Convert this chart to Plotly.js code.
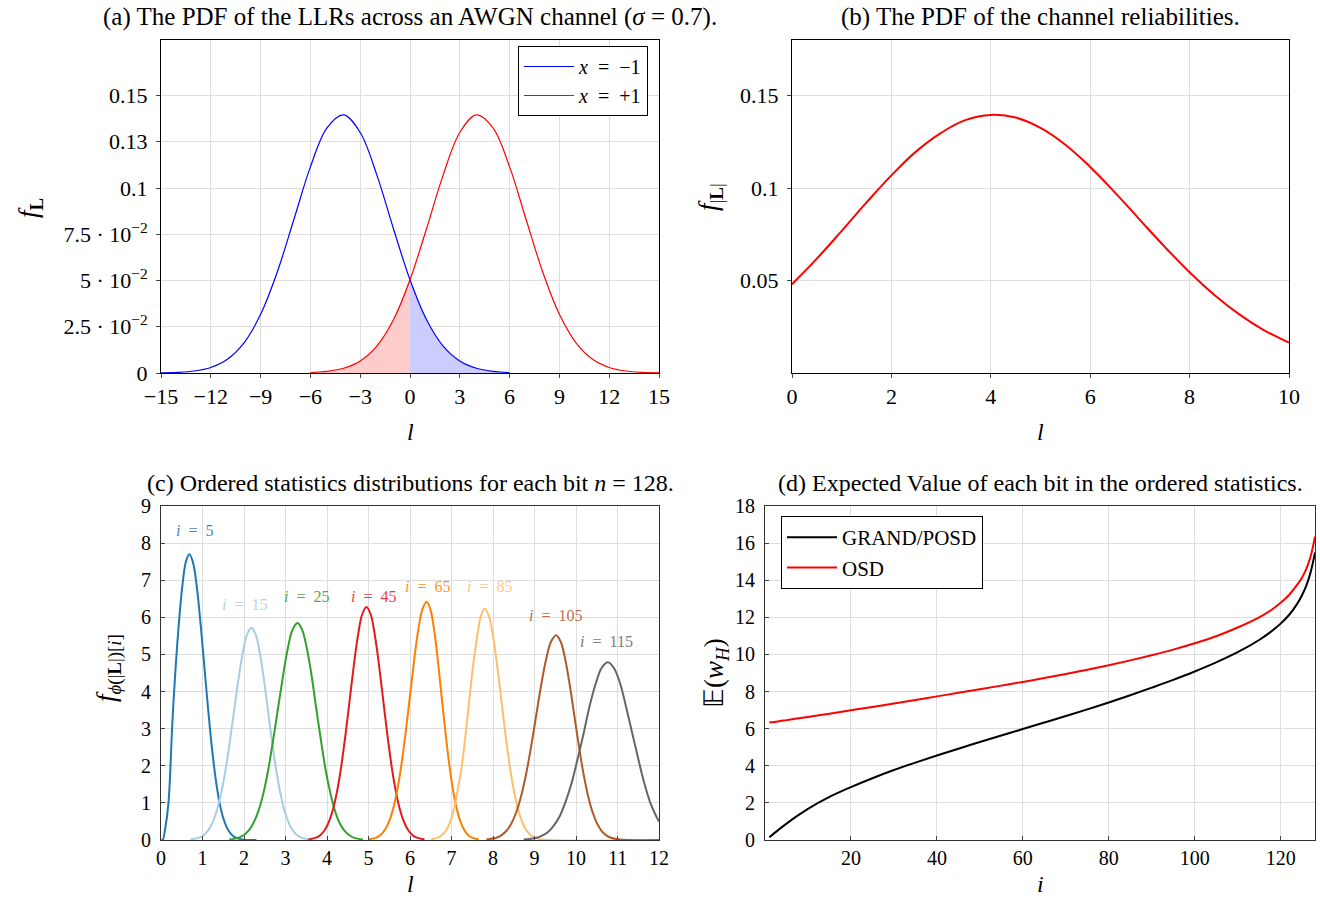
<!DOCTYPE html>
<html>
<head>
<meta charset="utf-8">
<script src="https://cdn.plot.ly/plotly-3.0.1.min.js"></script>
<style>html,body{margin:0;padding:0;background:#fff;}#chart{width:1320px;height:898px;}</style>
</head>
<body>
<div id="chart"></div>
<script>
// ---------- (a) PDF of LLRs ----------
var llrNegX = [-15,-14,-13,-12,-11,-10,-9,-8,-7,-6,-5,-4,-3,-2,-1,0,1,2,3,4,5,6];
var llrNegY = [0.00009,0.00034,0.00107,0.0030,0.00743,0.01632,0.03171,0.05447,0.08283,0.1114,0.1325,0.1395,0.1300,0.1071,0.0781,0.0504,0.02875,0.01451,0.00648,0.00256,0.000895,0.000277];
var llrPosX = [-6,-5,-4,-3,-2,-1,0,1,2,3,4,5,6,7,8,9,10,11,12,13,14,15];
var llrPosY = [0.000277,0.000895,0.00256,0.00648,0.01451,0.02875,0.0504,0.0781,0.1071,0.1300,0.1395,0.1325,0.1114,0.08283,0.05447,0.03171,0.01632,0.00743,0.0030,0.00107,0.00034,0.00009];
var aXTicks = [-15,-12,-9,-6,-3,0,3,6,9,12,15];
var aYTicks = [0,0.025,0.05,0.075,0.1,0.125,0.15];
var aYTickText = ['0','2.5 · 10<sup>−2</sup>','5 · 10<sup>−2</sup>','7.5 · 10<sup>−2</sup>','0.1','0.13','0.15'];

// ---------- (b) PDF of channel reliabilities ----------
var relX = [0,0.5,1,1.5,2,2.5,3,3.5,4,4.5,5,5.5,6,6.5,7,7.5,8,8.5,9,9.5,10];
var relY = [0.048,0.0618,0.0768,0.0922,0.1068,0.1198,0.1298,0.1368,0.1395,0.1381,0.1325,0.1234,0.1114,0.0975,0.0828,0.0682,0.0545,0.0422,0.0317,0.0231,0.0165];
var bXTicks = [0,2,4,6,8,10];
var bYTicks = [0.05,0.1,0.15];

// ---------- (c) ordered statistics distributions ----------
var os5X = [0,0.04,0.1,0.18,0.28,0.40,0.52,0.6,0.685,0.775,0.865,0.955,1.045,1.135,1.225,1.315,1.405,1.495,1.585,1.675,1.765,1.945,2.3];
var os5Y = [0,0,0.3,1.0,3.3,5.4,6.9,7.5,7.7,7.46,6.80,5.81,4.67,3.53,2.50,1.67,1.04,0.61,0.34,0.176,0.085,0.017,0];
var os15X = [0.71,0.92,1.025,1.13,1.235,1.34,1.445,1.55,1.655,1.76,1.865,1.97,2.075,2.18,2.28,2.38,2.48,2.58,2.68,2.78,2.88,2.98,3.08,3.18,3.28,3.38,3.58];
var os15Y = [0.013,0.063,0.130,0.251,0.455,0.774,1.24,1.86,2.62,3.47,4.32,5.05,5.54,5.72,5.54,5.05,4.32,3.47,2.62,1.86,1.24,0.774,0.455,0.251,0.130,0.063,0.013];
var os25X = [1.645,1.88,2.0,2.115,2.23,2.35,2.47,2.585,2.70,2.82,2.94,3.055,3.17,3.29,3.40,3.515,3.63,3.74,3.855,3.965,4.08,4.19,4.30,4.415,4.53,4.64,4.865];
var os25Y = [0.013,0.065,0.133,0.257,0.466,0.79,1.27,1.90,2.68,3.55,4.42,5.16,5.67,5.85,5.67,5.16,4.42,3.55,2.68,1.90,1.27,0.79,0.466,0.257,0.133,0.065,0.013];
var os45X = [3.55,3.75,3.85,3.95,4.05,4.15,4.25,4.35,4.45,4.55,4.65,4.75,4.85,4.95,5.05,5.15,5.25,5.35,5.45,5.55,5.65,5.75,5.85,5.95,6.05,6.15,6.35];
var os45Y = [0.014,0.070,0.143,0.276,0.50,0.85,1.358,2.04,2.875,3.81,4.74,5.54,6.09,6.28,6.09,5.54,4.74,3.81,2.875,2.04,1.358,0.85,0.50,0.276,0.143,0.070,0.014];
var os65X = [5.00,5.20,5.30,5.40,5.50,5.60,5.70,5.80,5.90,6.00,6.10,6.20,6.30,6.40,6.49,6.58,6.67,6.76,6.85,6.94,7.03,7.12,7.21,7.30,7.39,7.48,7.66];
var os65Y = [0.014,0.071,0.146,0.282,0.511,0.869,1.389,2.085,2.94,3.89,4.85,5.67,6.22,6.42,6.22,5.67,4.85,3.89,2.94,2.085,1.389,0.869,0.511,0.282,0.146,0.071,0.014];
var os85X = [6.51,6.69,6.78,6.88,6.97,7.06,7.15,7.25,7.34,7.43,7.52,7.62,7.71,7.80,7.90,8.00,8.10,8.20,8.30,8.40,8.50,8.60,8.70,8.80,8.90,9.00,9.20,12];
var os85Y = [0.0137,0.069,0.142,0.273,0.496,0.843,1.348,2.02,2.85,3.78,4.70,5.50,6.04,6.23,6.04,5.50,4.70,3.78,2.85,2.02,1.348,0.843,0.496,0.273,0.142,0.069,0.0137,0];
var os105X = [7.84,8.08,8.20,8.32,8.44,8.56,8.68,8.80,8.92,9.04,9.16,9.28,9.40,9.52,9.63,9.74,9.85,9.96,10.07,10.18,10.29,10.40,10.51,10.62,10.73,10.84,11.06,12];
var os105Y = [0.012,0.061,0.126,0.242,0.439,0.747,1.194,1.79,2.53,3.35,4.17,4.87,5.35,5.52,5.35,4.87,4.17,3.35,2.53,1.79,1.194,0.747,0.439,0.242,0.126,0.061,0.012,0];
var os115X = [8.74,9.03,9.17,9.32,9.46,9.61,9.75,9.90,10.04,10.19,10.33,10.48,10.62,10.77,10.91,11.06,11.20,11.35,11.50,11.64,11.78,11.93,12];
var os115Y = [0.0105,0.053,0.109,0.210,0.381,0.648,1.036,1.555,2.19,2.905,3.62,4.23,4.64,4.79,4.64,4.23,3.62,2.905,2.19,1.555,1.036,0.648,0.50];
var osLabels = ['<i>i</i>\u2002=\u20025','<i>i</i>\u2002=\u200215','<i>i</i>\u2002=\u200225','<i>i</i>\u2002=\u200245','<i>i</i>\u2002=\u200265','<i>i</i>\u2002=\u200285','<i>i</i>\u2002=\u2002105','<i>i</i>\u2002=\u2002115'];
var osLabelX = [0.8,2.02,3.51,5.11,6.42,7.92,9.5,10.74];
var osLabelY = [8.35,6.35,6.55,6.55,6.84,6.84,6.06,5.36];
var osColors = ['#1f78b4','#a6cee3','#33a02c','#e31a1c','#ff7f00','#fdbf6f','#b15928','#666666'];
var cXTicks = [0,1,2,3,4,5,6,7,8,9,10,11,12];
var cYTicks = [0,1,2,3,4,5,6,7,8,9];

// ---------- (d) expected value ----------
var rankI = [1,3,5,7,10,15,20,25,30,35,40,45,50,55,60,65,70,75,80,85,90,95,100,105,110,115,118,120,122,124,125,126,127,128];
var grandY = [0.15,0.52,0.88,1.22,1.68,2.32,2.85,3.33,3.77,4.17,4.55,4.92,5.28,5.63,5.98,6.33,6.68,7.04,7.41,7.8,8.21,8.63,9.08,9.57,10.12,10.78,11.27,11.66,12.14,12.78,13.2,13.72,14.45,15.5];
var osdY = [6.33,6.39,6.46,6.53,6.63,6.81,6.99,7.17,7.36,7.55,7.74,7.93,8.12,8.32,8.52,8.73,8.95,9.18,9.42,9.68,9.96,10.26,10.6,10.98,11.45,12.0,12.42,12.78,13.22,13.8,14.15,14.62,15.3,16.35];
var dXTicks = [20,40,60,80,100,120];
var dYTicks = [0,2,4,6,8,10,12,14,16,18];

// ---------- build ----------
var W = 1320, H = 898;
function px(x){return x/W;}
function py(y){return 1-y/H;}
function pick(xs, ys, test){var ox=[],oy=[];for(var k=0;k<xs.length;k++){if(test(xs[k])){ox.push(xs[k]);oy.push(ys[k]);}}return {x:ox,y:oy};}

var traces = [];
var redFill = pick(llrPosX, llrPosY, function(v){return v<=0;});
var blueFill = pick(llrNegX, llrNegY, function(v){return v>=0;});
traces.push({x:redFill.x,y:redFill.y,xaxis:'x',yaxis:'y',mode:'lines',fill:'tozeroy',fillcolor:'rgb(255,204,204)',line:{width:0,shape:'spline',color:'rgba(0,0,0,0)'},showlegend:false,hoverinfo:'skip'});
traces.push({x:blueFill.x,y:blueFill.y,xaxis:'x',yaxis:'y',mode:'lines',fill:'tozeroy',fillcolor:'rgb(204,204,255)',line:{width:0,shape:'spline',color:'rgba(0,0,0,0)'},showlegend:false,hoverinfo:'skip'});
traces.push({x:llrNegX,y:llrNegY,xaxis:'x',yaxis:'y',mode:'lines',name:'<i>x</i>\u2002=\u2002−1',line:{color:'#0000ff',width:1.2,shape:'spline'},legend:'legend'});
traces.push({x:llrPosX,y:llrPosY,xaxis:'x',yaxis:'y',mode:'lines',name:'<i>x</i>\u2002=\u2002+1',line:{color:'#ff0000',width:1.2,shape:'spline'},legend:'legend'});

traces.push({x:relX,y:relY,xaxis:'x2',yaxis:'y2',mode:'lines',line:{color:'#ff0000',width:2,shape:'spline',smoothing:1.2},showlegend:false});

var osX = [os5X,os15X,os25X,os45X,os65X,os85X,os105X,os115X];
var osY = [os5Y,os15Y,os25Y,os45Y,os65Y,os85Y,os105Y,os115Y];
for (var k=0;k<osX.length;k++){
  traces.push({x:osX[k],y:osY[k],xaxis:'x3',yaxis:'y3',mode:'lines',line:{color:osColors[k],width:2,shape:'spline',smoothing:1},showlegend:false});
}

traces.push({x:rankI,y:grandY,xaxis:'x4',yaxis:'y4',mode:'lines',name:'GRAND/POSD',line:{color:'#000000',width:2,shape:'spline'},legend:'legend2'});
traces.push({x:rankI,y:osdY,xaxis:'x4',yaxis:'y4',mode:'lines',name:'OSD',line:{color:'#ff0000',width:2,shape:'spline'},legend:'legend2'});

var FONT = 'Liberation Serif, Times New Roman, serif';
function axisBase(extra){
  var a = {showgrid:true,gridcolor:'#dddddd',gridwidth:1,zeroline:false,showline:true,linecolor:'#333',linewidth:1,mirror:true,
           ticks:'inside',ticklen:4,tickcolor:'#444',tickfont:{family:FONT,size:20,color:'#000'},fixedrange:true};
  for (var key in extra) a[key]=extra[key];
  return a;
}
var TICK22 = {family:FONT,size:22,color:'#000'};

var annotations = [];
function ann(text,x,y,opts){
  var o={text:text,xref:'paper',yref:'paper',x:px(x),y:py(y),showarrow:false,xanchor:'center',yanchor:'middle',font:{family:FONT,size:25,color:'#000'}};
  for (var key in opts) o[key]=opts[key];
  annotations.push(o);
}
var TF = {family:FONT,size:24,color:'#000'};
var YF = {family:FONT,size:27,color:'#000'};
ann('(a) The PDF of the LLRs across an AWGN channel (<i>σ</i> = 0.7).',410,17);
ann('(b) The PDF of the channel reliabilities.',1040,17);
ann('(c) Ordered statistics distributions for each bit <i>n</i> = 128.',410,483,{font:{family:FONT,size:24,color:'#000'}});
ann('(d) Expected Value of each bit in the ordered statistics.',1040,483,{font:{family:FONT,size:24,color:'#000'}});
ann('<i>l</i>',410,432,{font:TF});
ann('<i>l</i>',1040,432,{font:TF});
ann('<i>l</i>',410,884,{font:TF});
ann('<i>i</i>',1040,884,{font:TF});
ann('<i>f</i><sub><b>L</b></sub>',30,208,{textangle:-90,font:YF});
ann('<i>f</i><sub>|<b>L</b>|</sub>',710,197,{textangle:-90,font:YF});
ann('<i>f</i><sub><i>ϕ</i>(|<b>L</b>|)[<i>i</i>]</sub>',108,668,{textangle:-90,font:YF});
ann('𝔼(<i>w</i><sub><i>H</i></sub>)',716,673,{textangle:-90,font:YF});
for (var k=0;k<osLabels.length;k++){
  annotations.push({text:osLabels[k],xref:'x3',yref:'y3',x:osLabelX[k],y:osLabelY[k],showarrow:false,xanchor:'center',yanchor:'middle',opacity:0.85,
    font:{family:FONT,size:16,color:osColors[k]}});
}

var layout = {
  width:W,height:H,margin:{l:0,r:0,t:0,b:0},paper_bgcolor:'#fff',plot_bgcolor:'#fff',
  font:{family:FONT,size:20,color:'#000'},
  xaxis: axisBase({domain:[px(161),px(659)],anchor:'y',range:[-15,15],tickvals:aXTicks,ticks:'outside',linecolor:'#000',tickfont:TICK22}),
  yaxis: axisBase({domain:[py(373),py(40)],anchor:'x',range:[0,0.18],tickvals:aYTicks,ticktext:aYTickText,ticks:'outside',linecolor:'#000',ticklabelstandoff:4,tickfont:TICK22}),
  xaxis2: axisBase({domain:[px(792),px(1289)],anchor:'y2',range:[0,10],tickvals:bXTicks,ticks:'outside',linecolor:'#000',tickfont:TICK22}),
  yaxis2: axisBase({domain:[py(373),py(40)],anchor:'x2',range:[0,0.18],tickvals:bYTicks,ticktext:['0.05','0.1','0.15'],ticks:'outside',linecolor:'#000',ticklabelstandoff:4,tickfont:TICK22}),
  xaxis3: axisBase({domain:[px(161),px(659)],anchor:'y3',range:[0,12],tickvals:cXTicks}),
  yaxis3: axisBase({domain:[py(840),py(506)],anchor:'x3',range:[0,9],tickvals:cYTicks,ticklabelstandoff:5}),
  xaxis4: axisBase({domain:[px(765),px(1315)],anchor:'y4',range:[0,128],tickvals:dXTicks}),
  yaxis4: axisBase({domain:[py(840),py(506)],anchor:'x4',range:[0,18],tickvals:dYTicks,ticklabelstandoff:5}),
  legend:{x:px(648),y:py(46),xanchor:'right',yanchor:'top',bgcolor:'#fff',bordercolor:'#000',borderwidth:1,font:{family:FONT,size:20,color:'#000'},tracegroupgap:0,itemwidth:50},
  legend2:{x:px(781),y:py(516),xanchor:'left',yanchor:'top',bgcolor:'#fff',bordercolor:'#000',borderwidth:1,font:{family:FONT,size:21,color:'#000'},tracegroupgap:0,itemwidth:50},
  annotations:annotations
};

Plotly.newPlot('chart',traces,layout,{displayModeBar:false,staticPlot:true});
</script>
</body>
</html>
